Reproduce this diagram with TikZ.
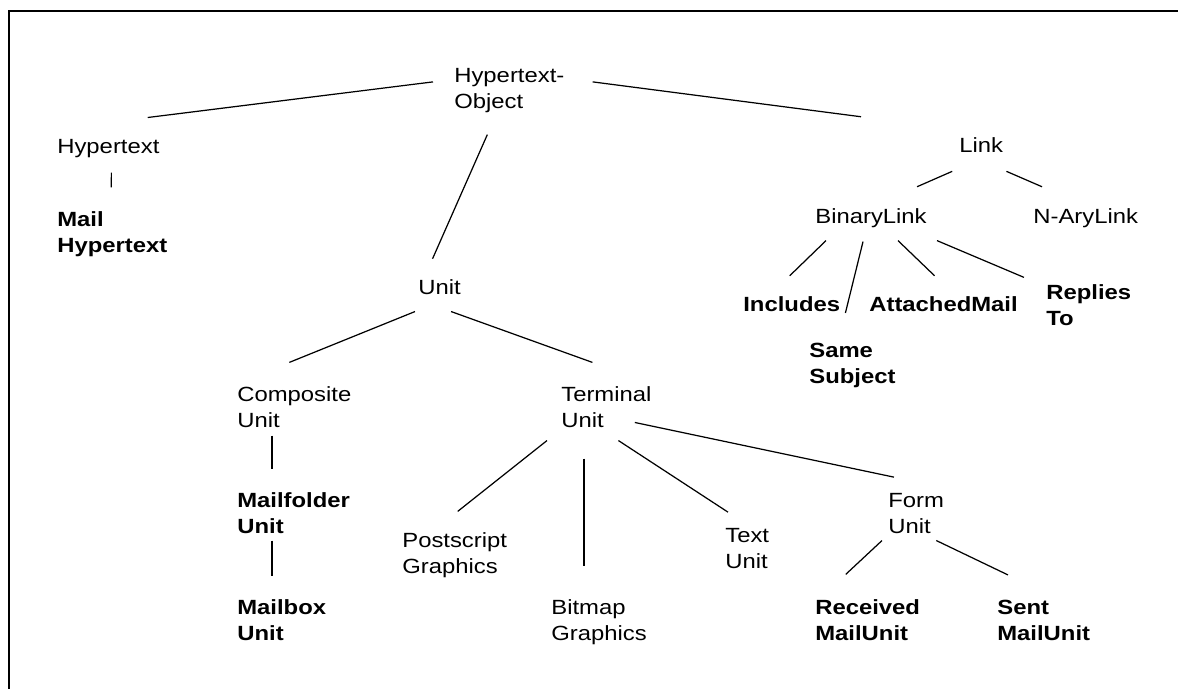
\documentclass[tikz,border=0pt]{standalone}
\usepackage{fontspec}
\setmainfont{Liberation Sans}[FakeStretch=1.16]
\usetikzlibrary{calc}
\def\branch(#1)(#2)(#3)(#4){\draw[conn] ($(#1)+(#2)$) -- ($(#3)+(#4)$)}

\begin{document}
\begin{tikzpicture}[x=0.02cm, y=-0.02cm,
		every node/.style={inner sep=0pt, anchor=base west, align=left},
		lbl/.style={font=\fontsize{11.7}{15}\selectfont},
		bld/.style={font=\fontsize{11.7}{15}\selectfont\bfseries},
		conn/.style={line width=0.7pt},
		pageframe/.style={line width=1.7pt}]
		%%%%% START %%%%%
		\useasboundingbox (0, 0) rectangle (1178, 689);
		\draw[pageframe] (1180, 11) -- (9, 11) -- (9, 691);
		
		% base west = baseline of the last line
		\node[lbl] (ho) at (454, 109) {Hypertext-\\Object};
		\node[lbl] (ht) at (57, 154) {Hypertext};
		\node[bld] (mh) at (57, 253) {Mail\\Hypertext};
		\node[lbl] (un) at (418, 295) {Unit};
		
		\node[lbl] (lk) at (959, 153) {Link};
		\node[lbl] (bl) at (815, 224) {BinaryLink};
		\node[lbl] (na) at (1033, 224) {N-AryLink};
		\node[bld] (inc) at (743, 312) {Includes};
		\node[bld] (am) at (869, 312) {AttachedMail};
		\node[bld] (rt) at (1046, 326) {Replies\\To};
		\node[bld] (ss) at (809, 384) {Same\\Subject};
		
		\node[lbl] (cu) at (237, 428) {Composite\\Unit};
		\node[lbl] (tu) at (561, 428) {Terminal\\Unit};
		\node[bld] (mf) at (237, 534) {Mailfolder\\Unit};
		\node[bld] (mb) at (237, 641) {Mailbox\\Unit};
		\node[lbl] (ps) at (402, 574) {Postscript\\Graphics};
		\node[lbl] (bm) at (551, 641) {Bitmap\\Graphics};
		\node[lbl] (tx) at (725, 569) {Text\\Unit};
		\node[lbl] (fu) at (888, 534) {Form\\Unit};
		\node[bld] (rm) at (815, 641) {Received\\MailUnit};
		\node[bld] (sm) at (997, 641) {Sent\\MailUnit};
		
		\branch(ho.west)(-21,-9)(ht.north east)(-12,-22);
		\branch(ho.east)(28,-9)(lk.north west)(-98,-21);
		\branch(ho.south)(-22,21)(un.north)(-7,-21);
		\branch(ht.south)(3,14)(mh.north)(-1,-24);
		
		\branch(lk.south)(-29,18)(bl.north east)(-10,-22);
		\branch(lk.south east)(3,18)(na.north west)(9,-22);
		\branch(bl.south west)(11,12)(inc.north)(-2,-21);
		\branch(bl.south)(-8,13)(ss.north)(-7,-30);
		\branch(bl.south)(27,12)(am.north)(-9,-21);
		\branch(bl.south east)(10,12)(rt.north west)(-22,-7);
		
		\branch(un.south west)(-3,16)(cu.north)(-5,-24);
		\branch(un.south east)(-10,16)(tu.north)(-14,-24);
		\branch(cu.south west)(35,7)(mf.north west)(35,-23);
		\branch(mf.south west)(35,6)(mb.north west)(35,-23);
		\branch(tu.south west)(-14,12)(ps.north)(3,-21);
		\branch(tu.south west)(23,30)(bm.north west)(33,-33);
		\branch(tu.south)(12,12)(tx.north west)(3,-16);
		\branch(tu.east)(-17,15)(fu.north west)(6,-16);
		\branch(fu.south west)(-6,6)(rm.north)(-22,-25);
		\branch(fu.south east)(-8,6)(sm.north west)(11,-25);
		%%%%% END %%%%%
	\end{tikzpicture}
\end{document}
